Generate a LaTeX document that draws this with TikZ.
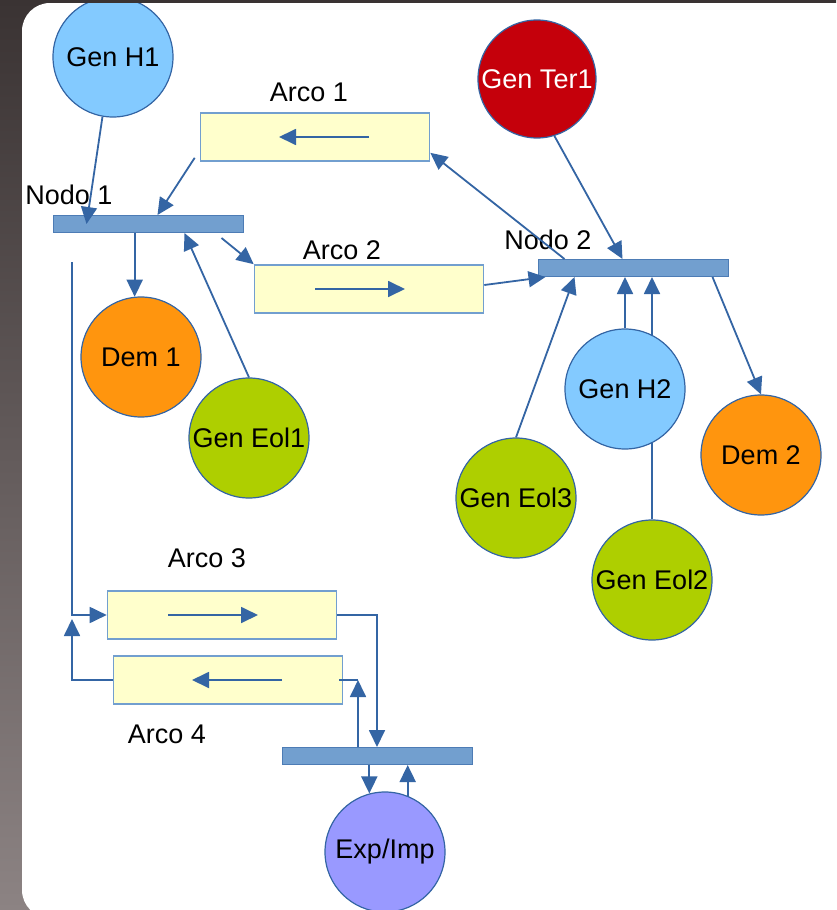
\documentclass[tikz,border=0pt]{standalone}
\usepackage{fontspec}
\setmainfont{Liberation Sans}
\usepackage{xcolor}
\usetikzlibrary{arrows.meta}

\definecolor{azulLinea}{HTML}{3465A4}
\definecolor{azulBarra}{HTML}{729FCF}
\definecolor{celeste}{HTML}{83CAFF}
\definecolor{naranja}{HTML}{FF950E}
\definecolor{verde}{HTML}{AECF00}
\definecolor{rojo}{HTML}{C5000B}
\definecolor{lila}{HTML}{9999FF}
\definecolor{crema}{HTML}{FFFFCC}
\definecolor{fondoA}{HTML}{3A3333}
\definecolor{fondoB}{HTML}{8C8383}

\tikzset{
  gen/.style={circle,draw=azulLinea,line width=1.2pt,minimum size=120pt,inner sep=0pt,font=\fontsize{27}{30}\selectfont},
  arco/.style={rectangle,draw=azulBarra,line width=1.6pt,fill=crema,minimum width=229pt,minimum height=48pt},
  barra/.style={rectangle,draw=azulLinea!60!azulBarra,line width=1pt,fill=azulBarra,minimum width=190pt,minimum height=17pt,inner sep=0pt},
  etiq/.style={font=\fontsize{27}{30}\selectfont,inner sep=0pt},
  flujo/.style={->,draw=azulLinea,line width=1.8pt}
}

\begin{document}
\begin{tikzpicture}[x=1pt,y=-1pt,>={Triangle[length=17pt,width=16pt]}]
  \useasboundingbox (0,0) rectangle (836,910);
  % fondo y hoja
  \fill[top color=fondoA,bottom color=fondoB] (0,0) rectangle (836,910);
  \fill[white,rounded corners=28pt] (22,3) rectangle (900,918);
  \begin{scope}
  \clip[rounded corners=28pt] (22,3) rectangle (900,918);

  % nodo 1 y su entorno
  \node[gen,fill=celeste]  (gh1)   at (113,57)  {Gen H1};
  \node[arco]              (arco1) at (315,137) {};
  \node[etiq]              (ta1)   at (309,92)  {Arco 1};
  \node[barra]             (nodo1) at (148,224) {};
  \node[etiq]              (tn1)   at (69,195)  {Nodo 1};
  \node[arco]              (arco2) at (369,289) {};
  \node[etiq]              (ta2)   at (342,250) {Arco 2};
  \node[gen,fill=naranja]  (dem1)  at (141,357) {Dem 1};
  \node[gen,fill=verde]    (geol1) at (249,438) {Gen Eol1};

  % nodo 2 y su entorno
  \node[gen,fill=rojo,text=white,minimum size=118pt] (gter1) at (537,79) {Gen Ter1};
  \node[barra]             (nodo2) at (633,268) {};
  \node[etiq]              (tn2)   at (548,240) {Nodo 2};
  \node[gen,fill=verde]    (geol3) at (516,498) {Gen Eol3};
  \node[gen,fill=verde]    (geol2) at (652,580) {Gen Eol2};
  \node[gen,fill=naranja]  (dem2)  at (761,455) {Dem 2};

  % la linea de Eol2 pasa por detras de H2
  \draw[flujo] (geol2.north) -- (geol2.north |- nodo2.south);
  \node[gen,fill=celeste]  (gh2)   at (625,389) {Gen H2};

  % nodo 3 (intercambio)
  \node[arco]              (arco3) at (222,615) {};
  \node[etiq]              (ta3)   at (207,558) {Arco 3};
  \node[arco]              (arco4) at (228,680) {};
  \node[etiq]              (ta4)   at (167,734) {Arco 4};
  \node[barra]             (nodo3) at (377,756) {};
  \node[gen,fill=lila]     (expimp) at (385,852) {Exp/Imp};

  % flechas dentro de los arcos
  \draw[flujo] ([xshift=54pt]arco1.center) -- ([xshift=-36pt]arco1.center);
  \draw[flujo] ([xshift=-54pt]arco2.center) -- ([xshift=36pt]arco2.center);
  \draw[flujo] ([xshift=-54pt]arco3.center) -- ([xshift=36pt]arco3.center);
  \draw[flujo] ([xshift=54pt]arco4.center) -- ([xshift=-36pt]arco4.center);

  % conexiones del nodo 1
  \draw[flujo] (gh1.260) -- ([xshift=34pt]nodo1.west);
  \draw[flujo] ([shift={(-5pt,4pt)}]arco1.south west) -- ([xshift=105pt]nodo1.north west);
  \draw[flujo] (dem1.96 |- nodo1.south) -- (dem1.96);
  \draw[flujo] (geol1.north) -- ([xshift=132pt]nodo1.south west);
  \draw[flujo] ([shift={(169pt,-5pt)}]nodo1.south west) -- (arco2.north west);

  % conexiones del nodo 2
  \draw[flujo] ([yshift=4pt]arco2.east) -- ([xshift=8pt]nodo2.south west);
  \draw[flujo] ([xshift=27pt]nodo2.north west) -- ([yshift=9pt]arco1.south east);
  \draw[flujo] (gter1.287) -- ([xshift=85pt]nodo2.north west);
  \draw[flujo] (geol3.north) -- ([xshift=37pt]nodo2.south west);
  \draw[flujo] (gh2.north) -- (gh2.north |- nodo2.south);
  \draw[flujo] ([xshift=-16pt]nodo2.south east) -- (dem2.north);

  % conexiones del nodo 3
  \coordinate (bajada) at (72,262);
  \coordinate (cruce) at (bajada |- arco3.west);
  \coordinate (sube) at ([xshift=-19pt]nodo3.north);
  \draw[flujo] (bajada) |- (arco3.west);
  \draw[flujo] (arco4.west) -| ([yshift=-4pt]cruce);
  \draw[flujo] (arco3.east) -| (nodo3.north);
  \draw[flujo] (sube) -- (sube |- arco4.east);
  \draw[azulLinea,line width=1.8pt] ([xshift=-4pt]arco4.east) -- (sube |- arco4.east);
  \draw[flujo] (expimp.105 |- nodo3.south) -- (expimp.105);
  \draw[flujo] (expimp.68) -- (expimp.68 |- nodo3.south);
  \end{scope}
\end{tikzpicture}
\end{document}
